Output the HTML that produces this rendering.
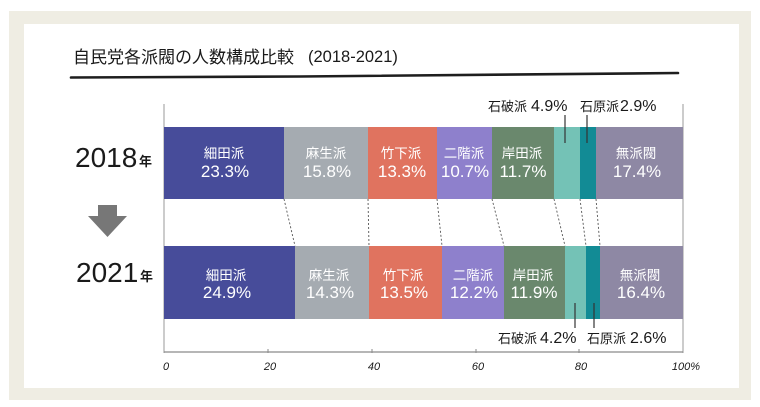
<!DOCTYPE html>
<html>
<head>
<meta charset="utf-8">
<style>
  html,body{margin:0;padding:0;background:#ffffff;}
  svg{display:block;}
  .jp{font-family:"Liberation Sans","Noto Sans CJK JP",sans-serif;}
  .lat{font-family:"Liberation Sans","Noto Sans CJK JP",sans-serif;}
</style>
</head>
<body>
<svg width="760" height="407" viewBox="0 0 760 407" xmlns="http://www.w3.org/2000/svg">
  <!-- backgrounds -->
  <rect x="0" y="0" width="760" height="407" fill="#ffffff"/>
  <rect x="9" y="11" width="742" height="389" fill="#efede3"/>
  <rect x="24" y="24" width="715" height="364" fill="#ffffff"/>

  <!-- title -->
  <text x="73" y="63" class="jp" font-size="17" fill="#1a1a1a">自民党各派閥の人数構成比較</text>
  <text x="308" y="62" class="lat" font-size="16.5" fill="#1a1a1a">(2018-2021)</text>
  <path d="M71 77.5 L300 76.5 L678 73" stroke="#1e1e1e" stroke-width="2.6" fill="none" stroke-linecap="round"/>

  <!-- year labels -->
  <text x="75" y="167" class="lat" font-size="28" fill="#1a1a1a">2018</text>
  <text x="139" y="166" class="jp" font-size="13" font-weight="bold" fill="#1a1a1a">年</text>
  <text x="76" y="282" class="lat" font-size="28" fill="#1a1a1a">2021</text>
  <text x="140" y="281" class="jp" font-size="13" font-weight="bold" fill="#1a1a1a">年</text>

  <!-- arrow -->
  <polygon points="98,205 117,205 117,216 127,216 107.5,237 88,216 98,216" fill="#777777"/>

  <!-- axis frame -->
  <line x1="164" y1="104" x2="164" y2="353" stroke="#9a9a9a" stroke-width="1"/>
  <line x1="683" y1="104" x2="683" y2="353" stroke="#9a9a9a" stroke-width="1"/>
  <line x1="164" y1="352" x2="683" y2="352" stroke="#8a8a8a" stroke-width="1.2"/>
  <line x1="268" y1="349" x2="268" y2="353" stroke="#8a8a8a" stroke-width="1"/>
  <line x1="372" y1="349" x2="372" y2="353" stroke="#8a8a8a" stroke-width="1"/>
  <line x1="476" y1="349" x2="476" y2="353" stroke="#8a8a8a" stroke-width="1"/>
  <line x1="579" y1="349" x2="579" y2="353" stroke="#8a8a8a" stroke-width="1"/>

  <!-- tick labels -->
  <g class="lat" font-size="11" fill="#1a1a1a" font-style="italic" text-anchor="middle">
    <text x="166" y="370">0</text>
    <text x="270" y="370">20</text>
    <text x="374" y="370">40</text>
    <text x="478" y="370">60</text>
    <text x="581" y="370">80</text>
    <text x="686" y="370">100%</text>
  </g>

  <!-- 2018 bar -->
  <rect x="164" y="127" width="120" height="72" fill="#474c9a"/>
  <rect x="284" y="127" width="84" height="72" fill="#a5abb1"/>
  <rect x="368" y="127" width="69" height="72" fill="#e0735f"/>
  <rect x="437" y="127" width="55" height="72" fill="#8e80cc"/>
  <rect x="492" y="127" width="62" height="72" fill="#6a886d"/>
  <rect x="554" y="127" width="26" height="72" fill="#74c2b6"/>
  <rect x="580" y="127" width="16" height="72" fill="#128b95"/>
  <rect x="596" y="127" width="87" height="72" fill="#8e88a4"/>

  <!-- 2021 bar -->
  <rect x="164" y="246" width="131" height="73" fill="#474c9a"/>
  <rect x="295" y="246" width="74" height="73" fill="#a5abb1"/>
  <rect x="369" y="246" width="73" height="73" fill="#e0735f"/>
  <rect x="442" y="246" width="62" height="73" fill="#8e80cc"/>
  <rect x="504" y="246" width="61" height="73" fill="#6a886d"/>
  <rect x="565" y="246" width="21" height="73" fill="#74c2b6"/>
  <rect x="586" y="246" width="14" height="73" fill="#128b95"/>
  <rect x="600" y="246" width="83" height="73" fill="#8e88a4"/>

  <!-- dashed connectors -->
  <g stroke="#555" stroke-width="0.9" stroke-dasharray="2,2" fill="none">
    <line x1="284" y1="199" x2="295" y2="246"/>
    <line x1="368" y1="199" x2="369" y2="246"/>
    <line x1="437" y1="199" x2="442" y2="246"/>
    <line x1="492" y1="199" x2="504" y2="246"/>
    <line x1="554" y1="199" x2="565" y2="246"/>
    <line x1="580" y1="199" x2="586" y2="246"/>
    <line x1="596" y1="199" x2="600" y2="246"/>
  </g>

  <!-- in-bar labels 2018 -->
  <g fill="#ffffff" text-anchor="middle">
    <g class="jp" font-size="13.5">
      <text x="224" y="158">細田派</text>
      <text x="326" y="158">麻生派</text>
      <text x="401" y="158">竹下派</text>
      <text x="464" y="158">二階派</text>
      <text x="522" y="158">岸田派</text>
      <text x="636" y="158">無派閥</text>
    </g>
    <g class="lat" font-size="17">
      <text x="225" y="177">23.3%</text>
      <text x="327" y="177">15.8%</text>
      <text x="402" y="177">13.3%</text>
      <text x="465" y="177">10.7%</text>
      <text x="523" y="177">11.7%</text>
      <text x="637" y="177">17.4%</text>
    </g>
  </g>

  <!-- in-bar labels 2021 -->
  <g fill="#ffffff" text-anchor="middle">
    <g class="jp" font-size="13.5">
      <text x="226" y="280">細田派</text>
      <text x="329" y="280">麻生派</text>
      <text x="403" y="280">竹下派</text>
      <text x="473" y="280">二階派</text>
      <text x="533" y="280">岸田派</text>
      <text x="640" y="280">無派閥</text>
    </g>
    <g class="lat" font-size="17">
      <text x="227" y="298">24.9%</text>
      <text x="330" y="298">14.3%</text>
      <text x="404" y="298">13.5%</text>
      <text x="474" y="298">12.2%</text>
      <text x="534" y="298">11.9%</text>
      <text x="641" y="298">16.4%</text>
    </g>
  </g>

  <!-- external labels top -->
  <text x="488" y="111" class="jp" font-size="13" fill="#1a1a1a">石破派</text>
  <text x="531" y="111" class="lat" font-size="16" fill="#1a1a1a">4.9%</text>
  <text x="580" y="111" class="jp" font-size="13" fill="#1a1a1a">石原派</text>
  <text x="620" y="111" class="lat" font-size="16" fill="#1a1a1a">2.9%</text>
  <line x1="565" y1="115" x2="565" y2="143" stroke="#333" stroke-width="1.2"/>
  <line x1="587" y1="115" x2="587" y2="143" stroke="#333" stroke-width="1.2"/>

  <!-- external labels bottom -->
  <line x1="575" y1="303" x2="575" y2="328" stroke="#333" stroke-width="1.2"/>
  <line x1="594" y1="303" x2="594" y2="328" stroke="#333" stroke-width="1.2"/>
  <text x="498" y="343" class="jp" font-size="13" fill="#1a1a1a">石破派</text>
  <text x="540" y="343" class="lat" font-size="16" fill="#1a1a1a">4.2%</text>
  <text x="587" y="343" class="jp" font-size="13" fill="#1a1a1a">石原派</text>
  <text x="630" y="343" class="lat" font-size="16" fill="#1a1a1a">2.6%</text>
</svg>
</body>
</html>
